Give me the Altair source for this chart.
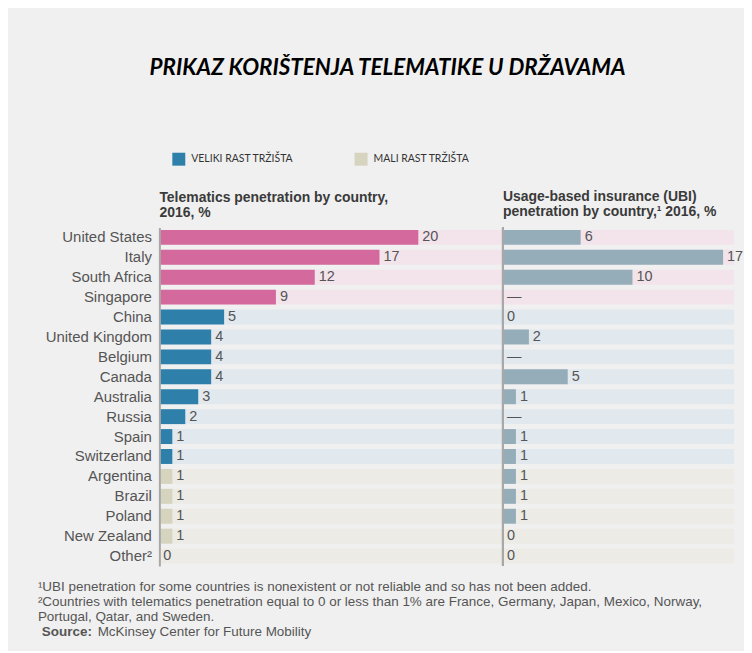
import altair as alt
import pandas as pd

countries = ["United States", "Italy", "South Africa", "Singapore", "China",
             "United Kingdom", "Belgium", "Canada", "Australia", "Russia",
             "Spain", "Switzerland", "Argentina", "Brazil", "Poland",
             "New Zealand", "Other²"]
telematics = [20, 17, 12, 9, 5, 4, 4, 4, 3, 2, 1, 1, 1, 1, 1, 1, 0]
ubi = [6, 17, 10, None, 0, 2, None, 5, 1, None, 1, 1, 1, 1, 1, 0, 0]
groups = (["VODEĆA TRŽIŠTA"] * 4 + ["VELIKI RAST TRŽIŠTA"] * 8
          + ["MALI RAST TRŽIŠTA"] * 5)

group_names = ["VODEĆA TRŽIŠTA", "VELIKI RAST TRŽIŠTA", "MALI RAST TRŽIŠTA"]
bar_colors = ["#d3699c", "#2e80ab", "#d6d3bf"]
band_colors = ["#f3e4ec", "#e1e8ee", "#ecebe5"]
ubi_color = "#95acb9"

title_text = "PRIKAZ KORIŠTENJA TELEMATIKE U DRŽAVAMA"
left_title = ["Telematics penetration by country,", "2016, %"]
right_title = ["Usage-based insurance (UBI)", "penetration by country,¹ 2016, %"]
footnotes = [
    "¹UBI penetration for some countries is nonexistent or not reliable and so has not been added.",
    "²Countries with telematics penetration equal to 0 or less than 1% are France, Germany, Japan, Mexico, Norway,",
    " Portugal, Qatar, and Sweden.",
]
source_label = "Source:"
source_text = "McKinsey Center for Future Mobility"

band_map = dict(zip(group_names, band_colors))
df = pd.DataFrame({
    "country": countries,
    "tel": telematics,
    "ubi": [v if v is not None else float("nan") for v in ubi],
    "ubi_pos": [v if v is not None else 0 for v in ubi],
    "ubi_label": [str(v) if v is not None else "—" for v in ubi],
    "tel_label": [str(v) for v in telematics],
    "group": groups,
    "band": [band_map[g] for g in groups],
})

PX = 13.0
WL, WR, H = 344, 232, 340
XL, XR = WL / PX, WR / PX
FONT = "Liberation Sans"

yscale = alt.Scale(paddingInner=0.25, paddingOuter=0.125)
y_left = alt.Y("country:N", sort=countries, scale=yscale,
               axis=alt.Axis(title=None, labelFont=FONT, labelFontSize=15,
                             labelColor="#555555", labelPadding=8, ticks=False,
                             domain=True, domainColor="#a8a8a8", domainWidth=2,
                             minExtent=152, maxExtent=152, zindex=1))
y_right = alt.Y("country:N", sort=countries, scale=yscale, axis=None)

def panel_title(lines):
    return alt.TitleParams(lines, anchor="start", frame="group", font=FONT,
                           fontSize=14, fontWeight="bold", color="#3a3a3a",
                           lineHeight=16, offset=7)

xl = alt.Scale(domain=[0, XL], nice=False, zero=True)
xr = alt.Scale(domain=[0, XR], nice=False, zero=True)

base_l = alt.Chart(df)
bands_l = base_l.mark_rect().encode(
    y=y_left,
    x=alt.X(datum=0, type="quantitative", scale=xl, axis=None),
    x2=alt.datum(XL),
    fill=alt.Fill("band:N", scale=None),
)
bars_l = base_l.mark_bar().encode(
    y=y_left,
    x=alt.X("tel:Q", scale=xl, axis=None),
    color=alt.Color("group:N",
                    scale=alt.Scale(domain=group_names, range=bar_colors),
                    legend=alt.Legend(values=group_names[1:], orient="none",
                                      legendX=13, legendY=-75,
                                      direction="horizontal", title=None,
                                      symbolType="square", symbolSize=169,
                                      symbolStrokeWidth=0, labelFont="Lato",
                                      labelFontSize=10.5, labelColor="#333333",
                                      labelOffset=6, columnPadding=61)),
)
text_l = base_l.mark_text(align="left", baseline="middle", dx=4, font=FONT,
                          fontSize=14.5, color="#555555").encode(
    y=y_left, x=alt.X("tel:Q", scale=xl, axis=None), text="tel_label:N")
left = alt.layer(bands_l, bars_l, text_l).properties(
    width=WL, height=H, title=panel_title(left_title))

base_r = alt.Chart(df)
bands_r = base_r.mark_rect().encode(
    y=y_right,
    x=alt.X(datum=0, type="quantitative", scale=xr, axis=None),
    x2=alt.datum(XR),
    fill=alt.Fill("band:N", scale=None),
)
bars_r = base_r.mark_bar(color=ubi_color).encode(
    y=y_right, x=alt.X("ubi:Q", scale=xr, axis=None))
text_r = base_r.mark_text(align="left", baseline="middle", dx=4, font=FONT,
                          fontSize=14.5, color="#555555").encode(
    y=y_right, x=alt.X("ubi_pos:Q", scale=xr, axis=None), text="ubi_label:N")
rule_r = base_r.mark_rule(color="#a8a8a8", strokeWidth=2).encode(
    x=alt.X(datum=0, type="quantitative", scale=xr, axis=None))
right = alt.layer(bands_r, bars_r, text_r, rule_r).properties(
    width=WR, height=H, title=panel_title(right_title))

panels = alt.hconcat(left, right, spacing=0)

fdf = pd.DataFrame({"row": [0, 1, 2], "line": footnotes})
sdf = pd.DataFrame({"row": [3], "label": [source_label], "text": [source_text]})
fy = alt.Scale(domain=[0, 1, 2, 3], padding=0.5)
foot_lines = alt.Chart(fdf).mark_text(align="left", baseline="middle", font=FONT,
                                      fontSize=13.5, color="#555555").encode(
    y=alt.Y("row:O", scale=fy, axis=None), x=alt.value(-122), text="line:N")
foot_src1 = alt.Chart(sdf).mark_text(align="left", baseline="middle", font=FONT,
                                     fontSize=13.5, fontWeight="bold",
                                     color="#555555").encode(
    y=alt.Y("row:O", scale=fy, axis=None), x=alt.value(-118), text="label:N")
foot_src2 = alt.Chart(sdf).mark_text(align="left", baseline="middle", font=FONT,
                                     fontSize=13.5, color="#555555", dx=56).encode(
    y=alt.Y("row:O", scale=fy, axis=None), x=alt.value(-118), text="text:N")
footer = alt.layer(foot_lines, foot_src1, foot_src2).properties(width=400, height=60)

chart = alt.vconcat(panels, footer, spacing=13).properties(
    title=alt.TitleParams(title_text, font="Lato", fontSize=22.5, fontStyle="italic",
                          fontWeight="bold", color="#000000", anchor="middle",
                          offset=74, dx=12),
    background="#f0f0f0",
    padding={"left": 0, "right": 0, "top": 47, "bottom": 10},
).configure_view(stroke=None)

chart.save("out.html", embed_options={"renderer": "svg", "actions": False})
